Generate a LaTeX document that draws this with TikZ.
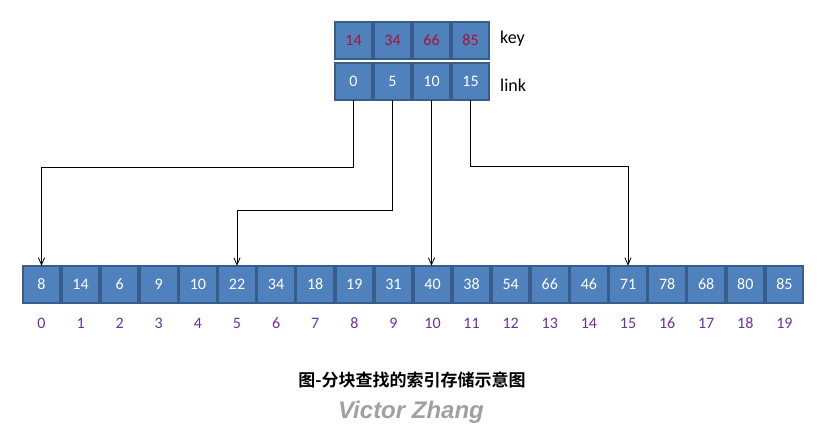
\documentclass[tikz,border=0pt]{standalone}
\usepackage{fontspec}
\setmainfont{Carlito}
\newfontfamily\cjkfont{Noto Sans CJK SC}[BoldFont={Noto Sans CJK SC Bold}]
\newfontfamily\markfont{Liberation Sans}
\usetikzlibrary{arrows.meta, positioning, calc}
\definecolor{cellblue}{HTML}{4F81BD}
\definecolor{celledge}{HTML}{385D8A}
\definecolor{keyred}{HTML}{B01030}
\definecolor{idxpurple}{HTML}{7030A0}
\definecolor{markgray}{HTML}{A0A0A0}

\begin{document}
\begin{tikzpicture}[
  x=1pt, y=-1pt,
  cell/.style={draw=celledge, fill=cellblue, line width=2pt, minimum width=37.5pt, minimum height=37.5pt, inner sep=0pt, outer sep=0pt, text=white, font=\fontsize{16}{16}\selectfont},
  keycell/.style={cell, text=keyred},
  idx/.style={text=idxpurple, inner sep=0pt, font=\fontsize{16}{16}\selectfont},
  side/.style={inner sep=0pt, anchor=west, font=\fontsize{18}{18}\selectfont},
  arr/.style={-{Straight Barb[length=2.5mm, width=2.2mm]}, line width=0.8pt},
]
  \useasboundingbox (0,0) rectangle (821,431);

  % index table
  \foreach \val [count=\i from 0] in {14,34,66,85}
    \node[keycell] (key\i) at ({353.5+39*\i},40.5) {\val};
  \foreach \val [count=\i from 0] in {0,5,10,15}
    \node[cell] (link\i) at ({353.5+39*\i},81.5) {\val};
  \node[side] (keylabel) at (500,39) {key};
  \node[side] (linklabel) at (500,85) {link};

  % main table
  \foreach \val [count=\i from 0] in {8,14,6,9,10,22,34,18,19,31,40,38,54,66,46,71,78,68,80,85} {
    \node[cell] (cell\i) at ({41.5+39.1*\i},284.5) {\val};
    \node[idx] (idx\i) at ({41.5+39.1*\i},323.5) {\i};
  }

  \draw[arr] (link0.south) -- (link0.south |- 0,167) -| (cell0.north);
  \draw[arr] (link1.south) -- (link1.south |- 0,210) -| (cell5.north);
  \draw[arr] (link2.south) -- (link2.south |- cell10.north);
  \draw[arr] (link3.south) -- (link3.south |- 0,166) -| (cell15.north);

  % caption and mark
  \node[inner sep=0pt, font=\cjkfont\bfseries\fontsize{17}{17}\selectfont] (caption) at (412,380) {图-分块查找的索引存储示意图};
  \node[inner sep=0pt, text=markgray, font=\markfont\bfseries\itshape\fontsize{24}{24}\selectfont] (mark) at (411,412) {Victor Zhang};
\end{tikzpicture}
\end{document}
